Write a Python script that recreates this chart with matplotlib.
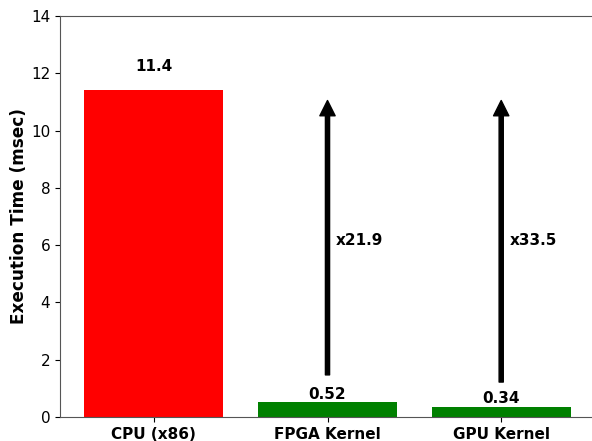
import matplotlib
matplotlib.use("Agg")
import matplotlib.pyplot as plt

categories = ["CPU (x86)", "FPGA Kernel", "GPU Kernel"]
times = [11.4, 0.52, 0.34]
colors = ["red", "green", "green"]
value_labels = ["11.4", "0.52", "0.34"]
label_y = [12.25, 0.80, 0.63]
speedups = ["x21.9", "x33.5"]
arrow_start = [1.47, 1.22]
arrow_end = [11.05, 11.05]
speedup_y = [6.15, 6.15]

fs = 11
fig = plt.figure(figsize=(5.92, 4.41), dpi=100)
ax = fig.add_axes([60/592, 24/441, 535/592, 401/441])
x = list(range(len(categories)))
ax.bar(x, times, color=colors, width=0.8)
ax.set_ylim(0, 14)
ax.set_xlim(-0.54, 2.54)
ax.set_xticks(x)
ax.set_xticklabels(categories, fontsize=fs, fontweight="bold")
ax.tick_params(axis="y", labelsize=fs)
ax.set_ylabel("Execution Time (msec)", fontsize=12.2, fontweight="bold")
ax.yaxis.set_label_coords((28 - 60) / 535, 0.5)
ax.spines["right"].set_visible(False)
for spine in ax.spines.values():
    spine.set_color("#555555")

for i, (lab, ly) in enumerate(zip(value_labels, label_y)):
    ax.text(x[i], ly, lab, ha="center", va="center", fontsize=fs, fontweight="bold")

for j, (s, y0, y1, ty) in enumerate(zip(speedups, arrow_start, arrow_end, speedup_y)):
    xi = x[j + 1]
    ax.annotate("", xy=(xi, y1), xytext=(xi, y0),
                arrowprops=dict(facecolor="black", edgecolor="black", width=3, headwidth=11, headlength=11))
    ax.text(xi + 0.05, ty, s, ha="left", va="center", fontsize=fs, fontweight="bold")

fig.savefig("out.png", dpi=100)
